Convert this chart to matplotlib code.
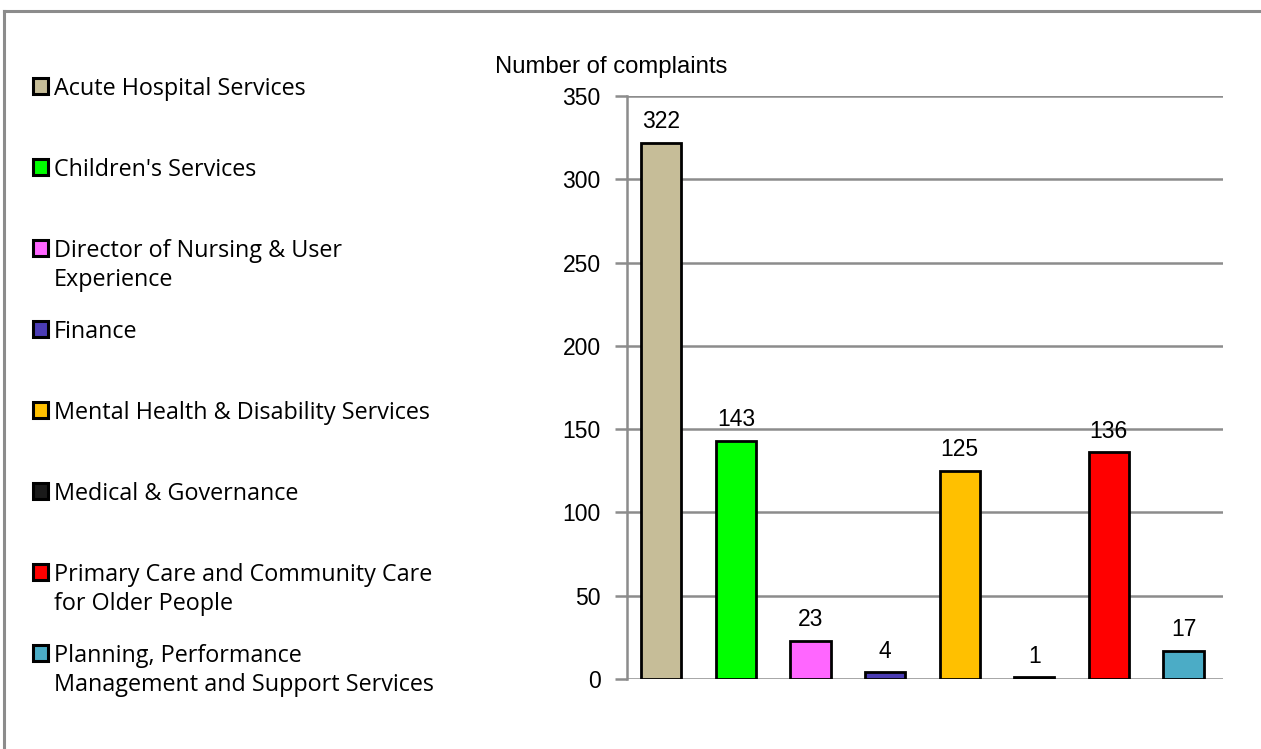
import matplotlib
matplotlib.use("Agg")
import matplotlib.pyplot as plt
from matplotlib.patches import Rectangle
from matplotlib.lines import Line2D

# data
categories = ["Acute Hospital Services", "Children's Services",
              "Director of Nursing & User\nExperience", "Finance",
              "Mental Health & Disability Services", "Medical & Governance",
              "Primary Care and Community Care\nfor Older People",
              "Planning, Performance\nManagement and Support Services"]
complaints = [322, 143, 23, 4, 125, 1, 136, 17]
colors = ["#C6BD98", "#00FF00", "#FF66FF", "#4B3CB4",
          "#FFC000", "#1A1A1A", "#FF0000", "#4BACC6"]
yticks = [0, 50, 100, 150, 200, 250, 300, 350]

W, H = 1261, 749
fig = plt.figure(figsize=(W / 100, H / 100), dpi=100)
fig.patch.set_facecolor("white")

# outer chart border (only top and left visible)
fig.add_artist(Line2D([4 / W, 1], [1 - 11 / H, 1 - 11 / H], color="#8C8C8C", lw=2.2,
                      transform=fig.transFigure))
fig.add_artist(Line2D([4 / W, 4 / W], [0, 1 - 11 / H], color="#8C8C8C", lw=2.2,
                      transform=fig.transFigure))

ax = fig.add_axes([627 / W, 1 - 679 / H, (1223 - 627) / W, (679 - 96) / H])
x = list(range(len(complaints)))
bars = ax.bar(x, complaints, width=0.54, color=colors, edgecolor="black", linewidth=2, zorder=3)
for xi, v in zip(x, complaints):
    ax.annotate(str(v), (xi, v), xytext=(0, 7), textcoords="offset points",
                ha="center", va="bottom", fontsize=16.5, family="Liberation Sans")

ax.set_xlim(-0.46, 7.53)
ax.set_ylim(0, 350)
ax.set_yticks(yticks)
ax.set_yticklabels([str(t) for t in yticks], fontsize=16.5, family="Liberation Sans")
ax.tick_params(axis="y", length=9, width=1.8, color="#8C8C8C", pad=10)
ax.tick_params(axis="x", bottom=False, labelbottom=False)
ax.grid(axis="y", color="#8C8C8C", lw=1.8, zorder=0)
ax.set_axisbelow(True)
for s in ["top", "right", "bottom"]:
    ax.spines[s].set_visible(False)
ax.spines["left"].set_color("#8C8C8C")
ax.spines["left"].set_linewidth(1.8)

fig.text(495 / W, 1 - 67 / H, "Number of complaints", fontsize=17.2,
         family="Liberation Sans", va="center", ha="left")

# legend on the left
for i, (lab, c) in enumerate(zip(categories, colors)):
    yc = 86 + 81 * i
    fig.add_artist(Rectangle((33 / W, 1 - (yc + 8) / H), 15 / W, 16 / H, facecolor=c,
                             edgecolor="black", lw=2.2, transform=fig.transFigure))
    fig.text(54 / W, 1 - (yc - 9) / H, lab, fontsize=16.8, family="Open Sans",
             va="top", ha="left", linespacing=1.3)

fig.savefig("out.png", dpi=100)
